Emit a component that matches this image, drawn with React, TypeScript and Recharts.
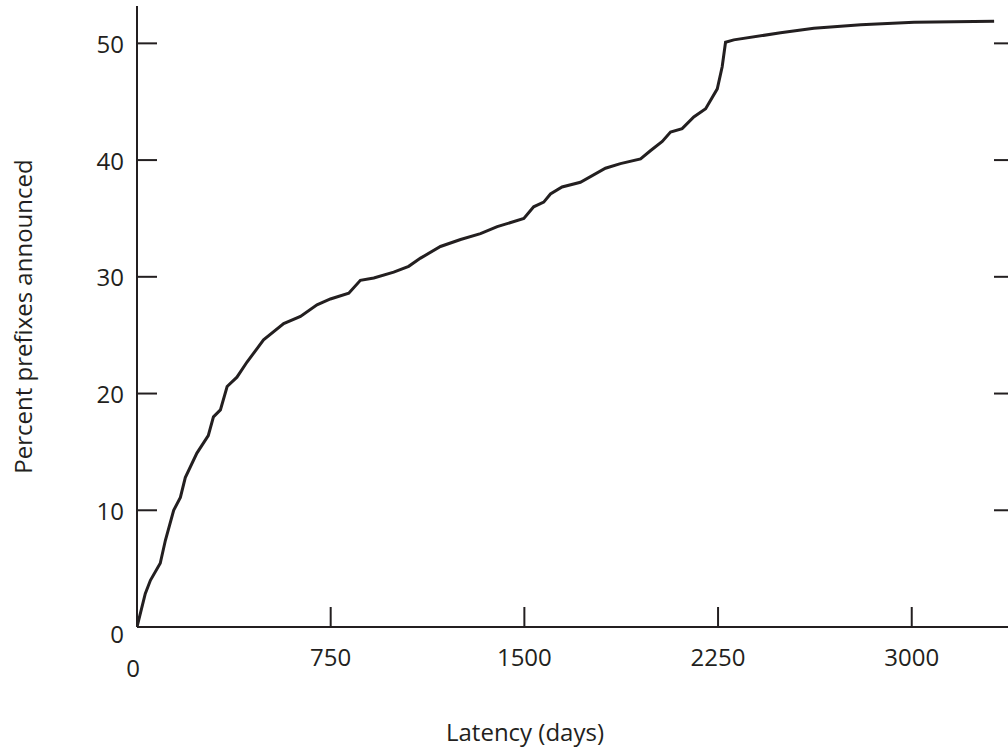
import React from 'react';
import { LineChart, Line, XAxis, YAxis, Label } from 'recharts';

// Latency CDF
const latencyDays = [
  0, 32, 52, 90, 110, 142, 168, 187, 232, 276, 296, 323, 349, 387, 426, 490,
  568, 633, 697, 749, 820, 865, 917, 994, 1052, 1098, 1175, 1253, 1330, 1395,
  1498, 1536, 1575, 1601, 1646, 1717, 1814, 1872, 1950, 1988, 2034, 2066, 2111,
  2156, 2202, 2247, 2266, 2279, 2311, 2492, 2621, 2803, 3009, 3319,
];
const percentAnnounced = [
  0, 2.86, 4.0, 5.46, 7.43, 10.0, 11.1, 12.8, 14.9, 16.4, 18.0, 18.6, 20.6, 21.4,
  22.7, 24.6, 26.0, 26.6, 27.6, 28.1, 28.6, 29.7, 29.9, 30.4, 30.9, 31.6, 32.6,
  33.2, 33.7, 34.3, 35.0, 36.0, 36.4, 37.1, 37.7, 38.1, 39.3, 39.7, 40.1, 40.8,
  41.6, 42.4, 42.7, 43.7, 44.4, 46.1, 48.0, 50.1, 50.3, 50.9, 51.3, 51.6, 51.8,
  51.9,
];
const xTicks = [0, 750, 1500, 2250, 3000];
const yTicks = [0, 10, 20, 30, 40, 50];

const data = latencyDays.map((day, i) => ({ day, pct: percentAnnounced[i] }));

const INK = '#231f20';
const FONT = '"Open Sans", sans-serif';
const TICK_LEN = 20;

const BottomTick = (props: any) => {
  const { x, y, payload } = props;
  const isZero = payload.value === 0;
  return (
    <g>
      <line x1={x} y1={y} x2={x} y2={y - TICK_LEN} stroke={INK} strokeWidth={2} />
      <text
        x={isZero ? x - 4 : x}
        y={isZero ? y + 40 : y + 29}
        textAnchor="middle"
        dominantBaseline="central"
        fill={INK}
        fontSize={24}
        fontFamily={FONT}
      >
        {payload.value}
      </text>
    </g>
  );
};

const LeftTick = (props: any) => {
  const { x, y, payload } = props;
  const isZero = payload.value === 0;
  return (
    <g>
      <line x1={x} y1={y} x2={x + TICK_LEN} y2={y} stroke={INK} strokeWidth={2} />
      <text
        x={x - 13}
        y={isZero ? y + 6 : y}
        textAnchor="end"
        dominantBaseline="central"
        fill={INK}
        fontSize={24}
        fontFamily={FONT}
      >
        {payload.value}
      </text>
    </g>
  );
};

const TopTick = (props: any) => {
  const { x, y } = props;
  return <line x1={x} y1={y} x2={x} y2={y + TICK_LEN} stroke={INK} strokeWidth={2} />;
};

const RightTick = (props: any) => {
  const { x, y } = props;
  return <line x1={x} y1={y} x2={x - TICK_LEN} y2={y} stroke={INK} strokeWidth={2} />;
};

const App: React.FC = () => {
  return (
    <div
      style={{
        position: 'absolute',
        left: 0,
        top: 0,
        width: 1008,
        height: 749,
        overflow: 'hidden',
        background: '#fff',
      }}
    >
      <LineChart
        width={1030}
        height={749}
        data={data}
        margin={{ top: 6, right: 0, bottom: 0, left: 0 }}
      >
        <XAxis
          xAxisId="bottom"
          dataKey="day"
          type="number"
          domain={[0, 3396]}
          ticks={xTicks}
          interval={0}
          height={122}
          tickSize={0}
          tickMargin={0}
          tickLine={false}
          axisLine={{ stroke: INK, strokeWidth: 2 }}
          tick={<BottomTick />}
          allowDataOverflow
        >
          <Label
            content={(p: any) => {
              const vb = p.viewBox;
              return (
                <text
                  x={vb.x + 388}
                  y={vb.y + 114}
                  textAnchor="middle"
                  fill={INK}
                  fontSize={24}
                  fontFamily={FONT}
                >
                  Latency (days)
                </text>
              );
            }}
          />
        </XAxis>
        <XAxis
          xAxisId="top"
          orientation="top"
          dataKey="day"
          type="number"
          domain={[0, 3396]}
          ticks={xTicks}
          interval={0}
          height={0}
          tickSize={0}
          tickMargin={0}
          tickLine={false}
          axisLine={{ stroke: '#3a3a3a', strokeWidth: 1.5 }}
          tick={<TopTick />}
          allowDataOverflow
        />
        <YAxis
          yAxisId="left"
          type="number"
          domain={[0, 53.2]}
          ticks={yTicks}
          interval={0}
          width={137}
          tickSize={0}
          tickMargin={0}
          tickLine={false}
          axisLine={{ stroke: INK, strokeWidth: 2 }}
          tick={<LeftTick />}
          allowDataOverflow
        >
          <Label
            content={(p: any) => {
              const vb = p.viewBox;
              const cx = vb.x + 22;
              const cy = vb.y + vb.height / 2;
              return (
                <text
                  x={cx}
                  y={cy}
                  transform={`rotate(-90, ${cx}, ${cy})`}
                  textAnchor="middle"
                  dominantBaseline="central"
                  fill={INK}
                  fontSize={24}
                  fontFamily={FONT}
                >
                  Percent prefixes announced
                </text>
              );
            }}
          />
        </YAxis>
        <YAxis
          yAxisId="right"
          orientation="right"
          type="number"
          domain={[0, 53.2]}
          ticks={yTicks}
          interval={0}
          width={16}
          tickSize={0}
          tickMargin={0}
          tickLine={false}
          axisLine={{ stroke: INK, strokeWidth: 2 }}
          tick={<RightTick />}
          allowDataOverflow
        />
        <Line
          xAxisId="bottom"
          yAxisId="left"
          type="linear"
          dataKey="pct"
          stroke={INK}
          strokeWidth={3}
          dot={false}
          isAnimationActive={false}
        />
      </LineChart>
    </div>
  );
};

export default App;
